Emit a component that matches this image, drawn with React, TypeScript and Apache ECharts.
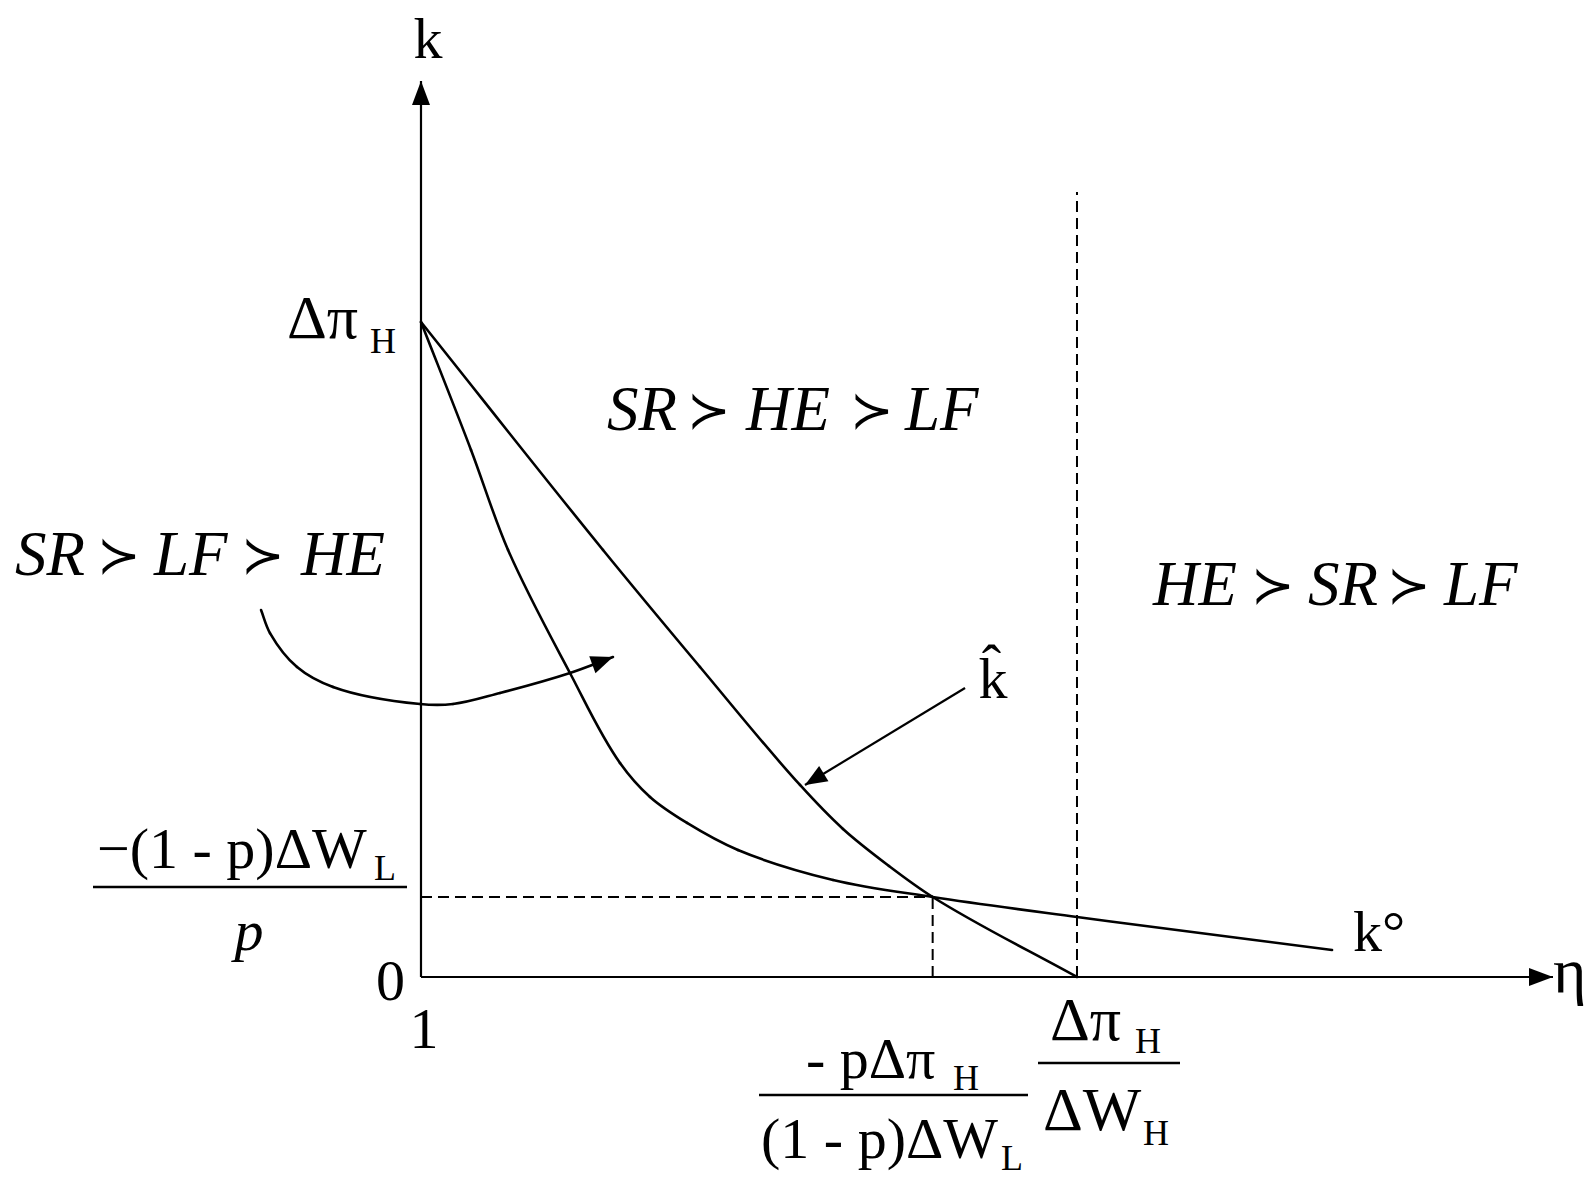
import React, { useEffect, useRef } from "react";
import * as echarts from "echarts";

// Data units: horizontal (η) axis runs 0..100 from the origin (η = 1) to the arrow tip,
// vertical (k) axis runs 0..100 from the origin to its arrow tip.
const X_MIN = -37.19; // left edge of the page in η units (room for the pointer)
const kTop = 73.1; // Δπ_H
const kCross = 8.93; // −(1−p)ΔW_L / p
const etaCross = 45.2; // −pΔπ_H / ((1−p)ΔW_L)
const etaZero = 57.95; // Δπ_H / ΔW_H
const dashTop = 87.6;

const axisX = [[0, 0], [100, 0]];
const axisY = [[0, 0], [0, 100]];

const kCircle = [
  [0, kTop], [4.42, 58.82], [7.69, 47.66], [13.16, 33.93], [17.58, 23.88], [20.23, 20.09],
  [23.5, 17.19], [28.0, 14.17], [36.4, 10.83], [etaCross, kCross], [etaZero, 6.7], [80.48, 3.01],
];

const kHat = [
  [0, kTop], [16.08, 47.66], [24.65, 34.6], [33.48, 21.43], [37.28, 16.52], [41.34, 12.39],
  [etaCross, kCross], [etaZero, 0],
];

const pointerCurve = [
  [-14.13, 40.96], [-13.34, 38.39], [-10.95, 34.6], [-7.77, 32.37], [-0.09, 30.47],
  [2.83, 30.47], [6.98, 31.7], [13.16, 33.93], [16.96, 35.71],
];
const pointerKHat = [[48.06, 32.25], [33.92, 21.43]];

const dashH = [[0, kCross], [etaCross, kCross]];
const dashV1 = [[etaCross, 0], [etaCross, kCross]];
const dashV2 = [[etaZero, 0], [etaZero, dashTop]];

// arrow heads: [tipX, tipY, fromX, fromY]
const last = (a: number[][]) => a[a.length - 1];
const prev = (a: number[][]) => a[a.length - 2];
const heads = [
  [...last(axisX), ...prev(axisX)],
  [...last(axisY), ...prev(axisY)],
  [...last(pointerCurve), ...prev(pointerCurve)],
  [...last(pointerKHat), ...prev(pointerKHat)],
];
const HEAD_SIZE = [[24, 9], [24, 9], [22, 9], [22, 9]];

const SERIF = "'Liberation Serif', 'Times New Roman', 'DejaVu Serif', serif";
const SYM = "'DejaVu Sans', 'DejaVu Serif', sans-serif";
const MAIN = 58;
const GREEK = 62;
const SUB = 36;
const REGION = 63;

function txt(
  text: string,
  x: number,
  baseline: number,
  size: number,
  align = "left",
  italic = false,
  family = SERIF,
  weight: any = "normal"
) {
  return {
    type: "text",
    x,
    y: baseline - 0.34 * size,
    silent: true,
    style: {
      text,
      fontSize: size,
      fontFamily: family,
      fontStyle: italic ? "italic" : "normal",
      fontWeight: weight,
      fill: "#000",
      align,
      textAlign: align,
      verticalAlign: "middle",
      textVerticalAlign: "middle",
    },
  };
}
function bar(x1: number, x2: number, y: number) {
  return {
    type: "line",
    silent: true,
    shape: { x1, y1: y, x2, y2: y },
    style: { stroke: "#000", lineWidth: 2.5 },
  };
}
// region label: three italic words joined by "≻"
function region(words: string[], lefts: number[], succ: number[], baseline: number) {
  const out: any[] = [];
  words.forEach((w, i) => out.push(txt(w, lefts[i], baseline, REGION, "left", true)));
  succ.forEach((cx) => out.push(txt("≻", cx, baseline - 2, 52, "center", false, SYM, 200)));
  return out;
}

// straight segments
function lineSeries(data: number[][], width: number, dashed = false) {
  return {
    type: "line",
    data,
    symbol: "none",
    clip: false,
    silent: true,
    lineStyle: { color: "#000", width, type: dashed ? [11, 6] : "solid" },
    z: 3,
  };
}

// smooth curve through the data points (one cubic segment per point, drawn via the chart's coords)
function curveSeries(points: number[][], width: number) {
  return {
    type: "custom",
    data: points,
    clip: false,
    silent: true,
    z: 3,
    renderItem: (params: any, api: any) => {
      const i = params.dataIndex;
      const n = points.length;
      if (i >= n - 1) return { type: "group", children: [] };
      const P = points.map((p) => api.coord(p));
      const tan = (j: number) => {
        let vx: number, vy: number;
        if (j === 0) {
          vx = P[1][0] - P[0][0];
          vy = P[1][1] - P[0][1];
        } else if (j === n - 1) {
          vx = P[j][0] - P[j - 1][0];
          vy = P[j][1] - P[j - 1][1];
        } else {
          const ax = P[j][0] - P[j - 1][0], ay = P[j][1] - P[j - 1][1];
          const al = Math.hypot(ax, ay) || 1;
          const bx = P[j + 1][0] - P[j][0], by = P[j + 1][1] - P[j][1];
          const bl = Math.hypot(bx, by) || 1;
          vx = ax / al + bx / bl;
          vy = ay / al + by / bl;
        }
        const l = Math.hypot(vx, vy) || 1;
        return [vx / l, vy / l];
      };
      const a = P[i], b = P[i + 1];
      const L = Math.hypot(b[0] - a[0], b[1] - a[1]) / 3;
      const ta = tan(i), tb = tan(i + 1);
      return {
        type: "bezierCurve",
        shape: {
          x1: a[0], y1: a[1], x2: b[0], y2: b[1],
          cpx1: a[0] + ta[0] * L, cpy1: a[1] + ta[1] * L,
          cpx2: b[0] - tb[0] * L, cpy2: b[1] - tb[1] * L,
        },
        style: { stroke: "#000", lineWidth: width, fill: "none", lineCap: "round" },
      };
    },
  };
}

export default function App() {
  const ref = useRef<HTMLDivElement>(null);
  useEffect(() => {
    if (!ref.current) return;
    const chart = echarts.init(ref.current, undefined, { renderer: "svg" });
    const option: any = {
      animation: false,
      backgroundColor: "#fff",
      grid: { left: 0, top: 81, width: 1553, height: 896 },
      xAxis: { type: "value", min: X_MIN, max: 100, show: false },
      yAxis: { type: "value", min: 0, max: 100, show: false },
      series: [
        lineSeries(axisX, 2.2),
        lineSeries(axisY, 2.2),
        lineSeries(dashH, 2, true),
        lineSeries(dashV1, 2, true),
        lineSeries(dashV2, 2, true),
        curveSeries(kCircle, 2.6),
        curveSeries(kHat, 2.6),
        curveSeries(pointerCurve, 2.6),
        lineSeries(pointerKHat, 2.2),
        {
          type: "custom",
          data: heads,
          silent: true,
          clip: false,
          z: 4,
          renderItem: (params: any, api: any) => {
            const tip = api.coord([api.value(0), api.value(1)]);
            const from = api.coord([api.value(2), api.value(3)]);
            const [len, hw] = HEAD_SIZE[params.dataIndex];
            const dx = tip[0] - from[0];
            const dy = tip[1] - from[1];
            const d = Math.hypot(dx, dy) || 1;
            const ux = dx / d, uy = dy / d;
            const bx = tip[0] - ux * len, by = tip[1] - uy * len;
            return {
              type: "polygon",
              shape: { points: [tip, [bx - uy * hw, by + ux * hw], [bx + uy * hw, by - ux * hw]] },
              style: { fill: "#000" },
            };
          },
        },
      ],
      graphic: {
        elements: [
          txt("k", 428, 58, MAIN, "center"),
          txt("η", 1553, 992, 64),
          txt("0", 405, 1000, MAIN, "right"),
          txt("1", 424, 1048, MAIN, "center"),
          txt("Δπ", 287, 338, GREEK),
          txt("H", 370, 353, SUB),
          ...region(["SR", "HE", "LF"], [607, 746, 905], [709, 872], 430),
          ...region(["SR", "LF", "HE"], [15, 154, 301], [119, 263], 575),
          ...region(["HE", "SR", "LF"], [1153, 1308, 1444], [1273, 1409], 605),
          txt("k\u0302", 993, 698, MAIN, "center"),
          txt("k°", 1353, 951, MAIN),
          txt("−(1 - p)ΔW", 97, 868, MAIN),
          txt("L", 374, 880, SUB),
          bar(93, 407, 887),
          txt("p", 249, 950, MAIN, "center", true),
          txt("- pΔπ", 806, 1078, MAIN),
          txt("H", 953, 1090, SUB),
          bar(759, 1028, 1095),
          txt("(1 - p)ΔW", 761, 1158, MAIN),
          txt("L", 1001, 1170, SUB),
          txt("Δπ", 1050, 1040, GREEK),
          txt("H", 1135, 1053, SUB),
          bar(1038, 1180, 1063),
          txt("ΔW", 1043, 1130, GREEK),
          txt("H", 1143, 1145, SUB),
        ],
      },
    };
    chart.setOption(option);
    return () => chart.dispose();
  }, []);
  return (
    <div
      ref={ref}
      style={{ position: "fixed", left: 0, top: 0, width: 1586, height: 1181, background: "#fff" }}
    />
  );
}
